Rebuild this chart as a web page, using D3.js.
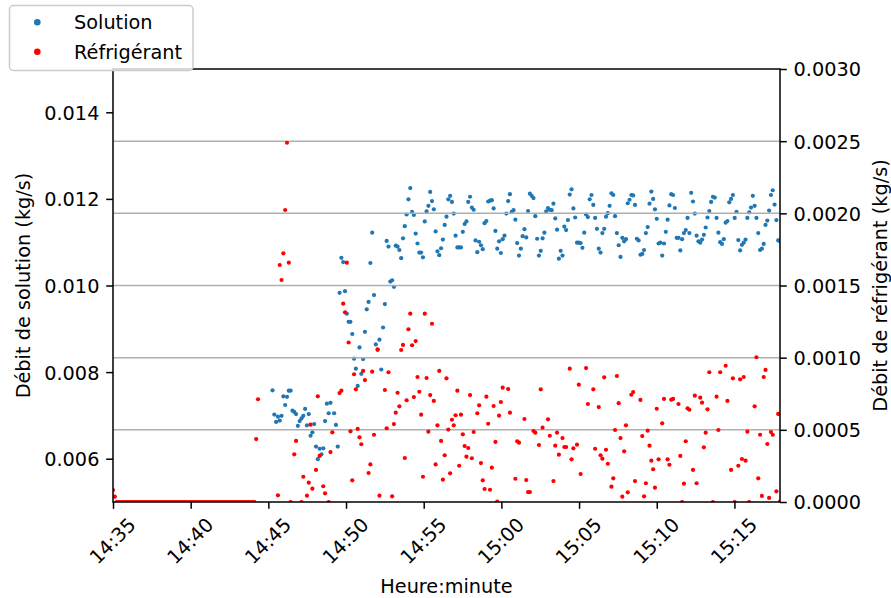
<!DOCTYPE html>
<html>
<head>
<meta charset="utf-8">
<script src="https://cdn.jsdelivr.net/npm/d3@7"></script>
<style>
  body { margin: 0; background: #fff; }
  svg { display: block; }
  text { font-family: "DejaVu Sans", sans-serif; fill: #000; }
</style>
</head>
<body>
<svg id="chart" width="891" height="598"></svg>
<script>
// Logger samples: one record every 7 s starting at 14:35:00
const sampleStart = "14:35:00";
const sampleStepSeconds = 7;

// Solution mass flow (kg/s), one value per record
const solutionFlow = [
  0,0,0,0,0,0,0,0,0,0,0,
  0,0,0,0,0,0,0,0,0,0,0,
  0,0,0,0,0,0,0,0,0,0,0,
  0,0,0,0,0,0,0,0,0,0,0,
  0,0,0,0,0,0,0,0,0,0,0,
  0,0,0,0,0,0,0,0,0,0,0,
  0,0,0,0,0,0,0,0,0,0,0,
  0,0,0,0,0,0,0,0,0,0,0,
  0.00758,0.00702,0.00685,0.00697,0.00688,0.00699,0.00744,0.00724,0.00743,0.00757,
  0.00757,0.00711,0.00708,0.00703,0.00676,0.00687,0.00693,0.00699,0.00715,0.00677,
  0.00703,0.00653,0.00661,0.00680,0.00628,0.00599,0.00623,0.00610,0.00624,0.00687,
  0.00727,0.00705,0.00729,null,0.00705,0.00678,0.00628,0.00983,0.01064,0.01054,
  0.00987,0.00935,0.00916,0.00916,0.00888,0.00831,0.00808,0.00768,0.00857,0.00796,
  0.00830,0.00893,0.00945,0.00962,0.01052,0.01122,0.00978,0.00864,0.00851,0.00875,
  0.00806,0.00903,0.00957,0.01103,0.01090,0.01009,0.01012,0.00997,0.01092,0.01090,
  0.01082,0.01063,0.01109,0.01137,0.01164,0.01199,0.01225,0.01170,0.01163,0.01120,
  0.01097,0.01076,0.01076,0.01065,0.01148,0.01171,0.01184,0.01216,0.01195,0.01176,
  0.01125,0.01079,0.01070,
  0.01086,0.01106,0.01140,0.01159,0.01199,0.01207,0.01193,0.01166,0.01115,0.01088,
  0.01088,0.01088,0.01124,0.01142,0.01148,0.01193,0.01205,0.01180,0.01175,0.01104,
  0.01077,0.01101,0.01093,0.01084,0.01144,0.01149,0.01194,0.01196,0.01197,0.01178,
  0.01126,0.01085,0.01102,0.01075,0.01107,0.01115,0.01166,0.01195,0.01211,0.01170,
  0.01174,0.01152,0.01098,0.01069,0.01085,0.01114,0.01130,0.01111,0.01172,0.01212,
  0.01207,0.01202,0.01160,0.01108,0.01069,0.01080,0.01109,0.01122,0.01171,0.01179,
  0.01175,0.01174,0.01189,0.01155,0.01129,0.01062,0.01080,0.01069,0.01136,0.01128,
  0.01151,0.01210,0.01222,0.01178,0.01157,0.01099,0.01099,0.01098,0.01087,0.01122,
  0.01164,0.01158,0.01199,0.01209,0.01186,0.01156,0.01131,0.01085,0.01076,0.01121,
  0.01131,0.01159,0.01167,0.01184,0.01213,0.01209,0.01160,0.01121,0.01093,0.01066,
  0.01110,0.01102,0.01107,0.01190,0.01198,0.01209,0.01208,0.01186,0.01108,0.01104,
  0.01071,0.01073,0.01082,0.01121,0.01135,0.01189,0.01217,0.01200,0.01176,0.01154,
  0.01097,0.01099,0.01069,0.01097,0.01124,0.01152,0.01185,0.01211,0.01209,0.01179,
  0.01110,0.01110,0.01081,0.01107,0.01121,0.01128,0.01156,0.01121,0.01214,0.01194,
  0.01166,0.01115,0.01102,0.01099,0.01106,0.01117,0.01134,0.01157,0.01172,0.01193,
  0.01205,0.01203,0.01156,0.01122,0.01100,0.01096,0.01107,0.01145,0.01149,0.01192,
  0.01200,0.01209,0.01156,0.01170,0.01105,0.01081,0.01094,0.01099,0.01106,0.01156,
  0.01169,0.01180,0.01207,0.01184,0.01156,0.01121,0.01082,0.01085,0.01096,0.01140,
  0.01150,0.01173,0.01209,0.01220,0.01187,0.01151,0.01104,0.01102
];

// Refrigerant mass flow (kg/s), one value per record (null = no reading)
const refrigerantFlow = [
  0.000083,0.000037,0,0,0,0,0,0,0,0,
  0,0,0,0,0,0,0,0,0,0,
  0,0,0,0,0,0,0,0,0,0,
  0,0,0,0,0,0,0,0,0,0,
  0,0,0,0,0,0,0,0,0,0,
  0,0,0,0,0,0,0,0,0,0,
  0,0,0,0,0,0,0,0,0,0,
  0,0,0,0,0,0,0,0,0,
  0.000436,0.000712,null,null,null,null,null,null,null,null,
  null,null,0.000046,0.001642,0.001538,0.001723,0.002023,0.002489,0.001658,0,
  null,0.000330,0.000423,null,null,0,0.000175,null,0.000044,0.000134,
  0.000536,0.000092,null,0.000222,0.000732,0.000319,null,0.000109,0.000060,null,
  0,0.000346,0.000483,null,null,null,0.000755,0.000771,0.001374,0.001314,
  0.001658,0.001105,0.000490,0.000150,0.000885,0.000781,0.000506,0.000448,0.000400,0.000908,
  0.000845,null,0.000201,0.000260,0.000903,0.000466,null,0.001058,0.000044,null,
  null,0.000776,0.000511,0.000899,null,0.000039,0.000540,0.000619,0.000757,0.000663,
  0.001053,0.001088,0.000305,0.000705,0.001197,0.001305,0.001086,0.000727,0.001115,0.000866,
  0.000764,0.000605,0.000175,0.001305,0.000859,0.000487,0.000741,0.001235,0.000700,0.000260,
  0.000531,0.000908,0.000423,0.000155,0.000324,0.000857,0.000502,0.000199,0.000570,0.000531,
  0.000601,0.000771,0.000251,0.000605,0.000469,0.000388,0.000314,0.000374,0.000741,0.000303,
  0.000485,null,0.000615,0.000670,0.000270,0.000150,0.000090,0.000730,0.000542,0.000085,
  0.000238,0.000665,0.000416,0.000002,0.000598,0.000693,0.000792,null,null,0.000783,
  0.000619,null,null,0.000161,0.000421,0.000411,null,null,0.000575,0.000152,
  0.000069,0.000069,null,0.000492,0.000480,null,0.000395,0.000781,0.000515,null,
  null,0.000573,0.000459,null,0.000145,0.000390,0.000480,0.000328,null,0.000443,
  0.000381,0.000381,null,0.000924,0.000296,0.000372,null,0.000397,0.000813,0.000194,
  null,null,0.000928,0.000679,null,null,0.000781,0.000369,null,0.000658,
  0.000324,0.000300,0.000864,0.000362,0.000265,null,0.000106,0.000164,0.000499,0.000873,
  0.000685,0.000443,0.000037,0.000351,0.000531,0.000067,null,0.000743,0.000762,0.000145,
  null,null,0.000707,0.000457,0.000039,0.000130,0.000494,0.000390,0.000286,0.000227,
  0.000099,0.000646,0.000296,null,0.000545,0.000714,null,0.000296,0.000258,0.000709,
  0.000714,null,null,0.000679,0.000319,0,0.000127,0.000421,0.000649,0.000639,
  null,0.000222,0.000737,0.000130,null,0.000723,0.000688,0.000379,0.000480,0.000642,
  0.000899,null,0,null,0.000730,0.000499,0.000899,null,null,0.000944,
  0.000700,null,0.000222,0.000857,0,null,0.000251,0.000850,0.000298,0.000866,
  0.000286,0.000487,0,null,null,0.000663,0.001003,0.000164,0.000466,0.000042,
  0.000866,0.000915,0.000402,0.000028,0.000485,0.000466,null,0.000074,0.000610,0.000002
];

const seriesNames = ["Solution", "Réfrigérant"];
const seriesColors = ["#1f77b4", "#ff0000"];
const timeTickLabels = ["14:35", "14:40", "14:45", "14:50", "14:55", "15:00", "15:05", "15:10", "15:15"];
const solutionTicks = [0.006, 0.008, 0.010, 0.012, 0.014];
const refrigerantTicks = [0, 0.0005, 0.0010, 0.0015, 0.0020, 0.0025, 0.0030];
const axisTitles = { x: "Heure:minute", left: "Débit de solution (kg/s)", right: "Débit de réfrigérant (kg/s)" };

// ---- layout ----
const W = 891, H = 598;
const plot = { left: 113, right: 780, top: 69, bottom: 502 };
const fontSize = 19.3;
const tickLen = 6.8, tickPad = 6.8, lw = 1.5;

const parseClock = d3.timeParse("%H:%M:%S");
const parseHM = d3.timeParse("%H:%M");
const t0 = parseClock(sampleStart);
const timeAt = i => d3.timeSecond.offset(t0, i * sampleStepSeconds);
const nSamples = Math.max(solutionFlow.length, refrigerantFlow.length);

const x = d3.scaleTime()
  .domain([t0, timeAt(nSamples - 1)])
  .range([plot.left, plot.right]);
const yLeft = d3.scaleLinear().domain([0.005, 0.015]).range([plot.bottom, plot.top]);
const yRight = d3.scaleLinear().domain([0, 0.003]).range([plot.bottom, plot.top]);

const svg = d3.select("#chart");
svg.append("rect").attr("width", W).attr("height", H).attr("fill", "#fff");

svg.append("defs").append("clipPath").attr("id", "plotClip")
  .append("rect")
  .attr("x", plot.left).attr("y", plot.top)
  .attr("width", plot.right - plot.left).attr("height", plot.bottom - plot.top);

const solutionPts = solutionFlow
  .map((v, i) => ({ t: timeAt(i), v }))
  .filter(d => d.v !== null);
const refrigerantPts = refrigerantFlow
  .map((v, i) => ({ t: timeAt(i), v }))
  .filter(d => d.v !== null);

const dotR = 2.1;

// solution (left axis)
svg.append("g").attr("clip-path", "url(#plotClip)")
  .selectAll("circle").data(solutionPts).join("circle")
  .attr("cx", d => x(d.t)).attr("cy", d => yLeft(d.v))
  .attr("r", dotR).attr("fill", seriesColors[0]);

// grid from the right axis
svg.append("g").selectAll("line")
  .data(refrigerantTicks.filter(v => v > 0 && v < 0.003)).join("line")
  .attr("x1", plot.left).attr("x2", plot.right)
  .attr("y1", d => yRight(d)).attr("y2", d => yRight(d))
  .attr("stroke", "#b0b0b0").attr("stroke-width", lw);

// refrigerant (right axis)
svg.append("g").attr("clip-path", "url(#plotClip)")
  .selectAll("circle").data(refrigerantPts).join("circle")
  .attr("cx", d => x(d.t)).attr("cy", d => yRight(d.v))
  .attr("r", dotR).attr("fill", seriesColors[1]);

// ---- axes ----
const leftAxis = d3.axisLeft(yLeft).tickValues(solutionTicks)
  .tickFormat(d3.format(".3f")).tickSizeInner(tickLen).tickSizeOuter(0).tickPadding(tickPad);
const rightAxis = d3.axisRight(yRight).tickValues(refrigerantTicks)
  .tickFormat(d3.format(".4f")).tickSizeInner(tickLen).tickSizeOuter(0).tickPadding(tickPad);
const bottomAxis = d3.axisBottom(x).tickValues(timeTickLabels.map(s => {
    const hm = parseHM(s);
    return new Date(t0.getFullYear(), t0.getMonth(), t0.getDate(), hm.getHours(), hm.getMinutes(), 0);
  }))
  .tickFormat(d3.timeFormat("%H:%M")).tickSizeInner(tickLen).tickSizeOuter(0).tickPadding(tickPad);

function styleAxis(g) {
  g.select(".domain").remove();
  g.selectAll(".tick line").attr("stroke", "#000").attr("stroke-width", lw);
  g.selectAll(".tick text").attr("font-size", fontSize).attr("fill", "#000")
    .attr("font-family", "DejaVu Sans");
}

const gL = svg.append("g").attr("transform", `translate(${plot.left},0)`).call(leftAxis).call(styleAxis);
gL.selectAll(".tick text").attr("dy", "0.36em");
const gR = svg.append("g").attr("transform", `translate(${plot.right},0)`).call(rightAxis).call(styleAxis);
gR.selectAll(".tick text").attr("dy", "0.36em");

const gB = svg.append("g").attr("transform", `translate(0,${plot.bottom})`).call(bottomAxis).call(styleAxis);
// rotated time labels: bounding box centred under the tick, top just below it
gB.selectAll(".tick text").each(function () {
  const el = d3.select(this);
  const w = this.getComputedTextLength();
  const h = 0.97 * fontSize;
  const boxH = (w + h) * Math.SQRT1_2;
  const cy = tickLen + tickPad + boxH / 2;
  el.attr("y", null).attr("dy", "0.28em")
    .attr("text-anchor", "middle")
    .attr("transform", `translate(0,${cy}) rotate(-45)`);
});

// spines
svg.append("rect")
  .attr("x", plot.left).attr("y", plot.top)
  .attr("width", plot.right - plot.left).attr("height", plot.bottom - plot.top)
  .attr("fill", "none").attr("stroke", "#000").attr("stroke-width", lw);

// axis titles
svg.append("text").attr("x", (plot.left + plot.right) / 2).attr("y", 592.5)
  .attr("text-anchor", "middle").attr("font-size", fontSize).text(axisTitles.x);
svg.append("text")
  .attr("transform", `translate(30,${(plot.top + plot.bottom) / 2}) rotate(-90)`)
  .attr("text-anchor", "middle").attr("font-size", fontSize).text(axisTitles.left);
svg.append("text")
  .attr("transform", `translate(887,${(plot.top + plot.bottom) / 2}) rotate(-90)`)
  .attr("text-anchor", "middle").attr("font-size", fontSize).text(axisTitles.right);

// ---- legend ----
const legend = svg.append("g");
legend.append("rect")
  .attr("x", 9.5).attr("y", 5.5).attr("width", 183.5).attr("height", 65)
  .attr("rx", 4).attr("ry", 4)
  .attr("fill", "#fff").attr("fill-opacity", 0.8)
  .attr("stroke", "#cccccc").attr("stroke-width", 1.5);
const legendRows = [22.3, 51.7];
seriesNames.forEach((name, i) => {
  legend.append("circle").attr("cx", 37.3).attr("cy", legendRows[i]).attr("r", 3.3)
    .attr("fill", seriesColors[i]);
  legend.append("text").attr("x", 74).attr("y", legendRows[i]).attr("dy", "0.36em")
    .attr("font-size", fontSize).text(name);
});
</script>
</body>
</html>
